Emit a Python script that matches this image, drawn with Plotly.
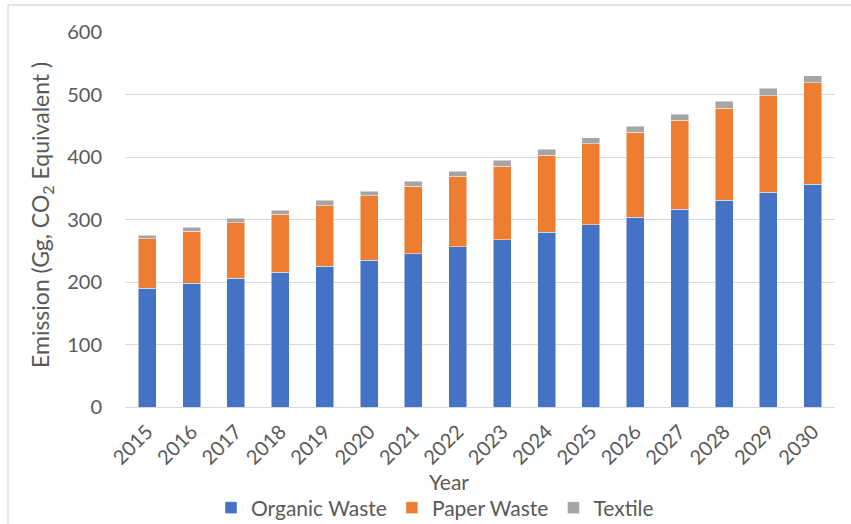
import plotly.graph_objects as go

years = [str(y) for y in range(2015, 2031)]
organic = [190, 198.4, 206.4, 216, 225.6, 235.2, 245.4, 256.6, 267.8, 279.5, 291.8, 304, 316.8, 330.7, 344, 356.8]
paper = [79.4, 83.2, 88.6, 92.3, 96.6, 103, 108.2, 113, 117.8, 123.2, 129.6, 136, 141.9, 147.7, 154.2, 162.2]
textile = [5.8, 5.9, 7.0, 6.9, 8.5, 6.8, 7.4, 8.0, 9.1, 9.6, 9.6, 9.6, 10.1, 11.2, 11.7, 11.2]
y_ticks = [0, 100, 200, 300, 400, 500, 600]

FONT = "Lato"
TXT = "#595959"

W, H = 851, 524
L, R, T, B = 125, 16, 32, 117
pw, ph = W - L - R, H - T - B

def px(x):
    return (x - L) / pw

def py(y):
    return (H - B - y) / ph

fig = go.Figure()
for name, vals, col in [("Organic Waste", organic, "#4472C4"),
                        ("Paper Waste", paper, "#ED7D31"),
                        ("Textile", textile, "#A5A5A5")]:
    fig.add_trace(go.Bar(x=years, y=vals, name=name, marker_color=col,
                         marker_line_color="rgba(255,255,255,0.6)", marker_line_width=0.8))

fig.update_layout(
    width=W, height=H, autosize=False,
    margin=dict(l=L, r=R, t=T, b=B, autoexpand=False),
    barmode="stack", bargap=0.594,
    plot_bgcolor="white", paper_bgcolor="white",
    font=dict(family=FONT, color=TXT, size=20),
    showlegend=True,
    legend=dict(orientation="h", xref="container", yref="container",
                x=435 / W, xanchor="center", y=(H - 508) / H, yanchor="middle",
                font=dict(size=21, color=TXT, family=FONT), itemwidth=30, traceorder="normal"),
    xaxis=dict(type="category", tickangle=-45, tickfont=dict(size=20, color=TXT),
               showline=True, linecolor="#d9d9d9", linewidth=1.3, ticks="",
               range=[-0.5, 15.5], automargin=False, ticklabelstandoff=4),
    yaxis=dict(range=[0, 600], tickvals=y_ticks, tickfont=dict(size=20, color=TXT),
               showgrid=True, gridcolor="#d9d9d9", gridwidth=1.3, zeroline=False,
               ticklabelstandoff=22, automargin=False),
    annotations=[
        dict(text="Year", xref="paper", yref="paper", x=px(449), y=py(481),
             xanchor="center", yanchor="middle", showarrow=False,
             font=dict(size=21, color=TXT, family=FONT)),
        dict(text="Emission (Gg, CO<sub>2</sub> Equivalent )", textangle=-90,
             xref="paper", yref="paper", x=px(41), y=py(215),
             xanchor="center", yanchor="middle", showarrow=False,
             font=dict(size=23, color=TXT, family=FONT)),
    ],
    shapes=[
        dict(type="line", xref="paper", yref="paper", x0=px(8), x1=px(8), y0=py(5), y1=py(524),
             line=dict(color="#d9d9d9", width=1.3)),
        dict(type="line", xref="paper", yref="paper", x0=px(8), x1=px(851), y0=py(5), y1=py(5),
             line=dict(color="#d9d9d9", width=1.3)),
    ],
)

fig.write_html("out.html")
